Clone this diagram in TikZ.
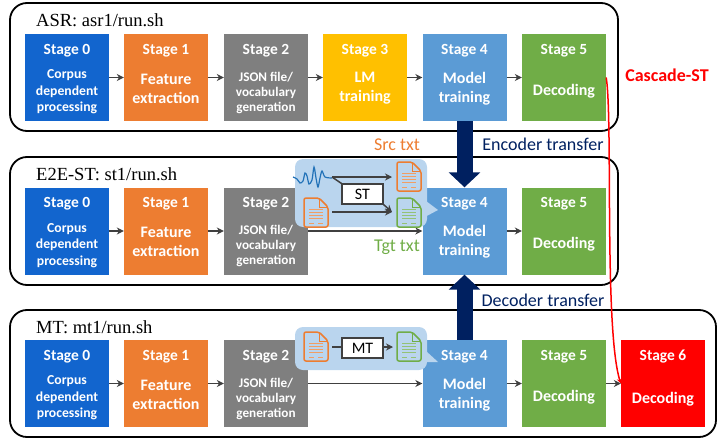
\documentclass[tikz,border=0pt]{standalone}
\usepackage{fontspec}
\setmainfont{Carlito}
\newfontfamily\titlefont{Liberation Serif}
\usetikzlibrary{arrows.meta}
\definecolor{stageblue}{HTML}{1265CE}
\definecolor{stageorange}{HTML}{ED7D31}
\definecolor{stagegray}{HTML}{7F7F7F}
\definecolor{stageyellow}{HTML}{FFC000}
\definecolor{stagesky}{HTML}{5B9BD5}
\definecolor{stagegreen}{HTML}{70AD47}
\definecolor{bubblecol}{HTML}{BAD5EE}
\definecolor{navycol}{HTML}{002060}
\definecolor{arrowcol}{HTML}{404040}
\definecolor{wavecol}{HTML}{2272B8}
\newcommand{\corpusfont}{\fontsize{13.7}{16.5}\selectfont\bfseries}
\newcommand{\jsonfont}{\fontsize{13.2}{15}\selectfont\bfseries}
\newcommand{\mainfontb}{\fontsize{16}{19}\selectfont\bfseries}
\tikzset{
  rowbox/.style={draw=black, line width=1.8pt, rounded corners=17pt},
  stagebox/.style={fill=#1, minimum width=84pt, minimum height=87pt, inner sep=0pt},
  stagehead/.style={text=white, font=\fontsize{15.5}{17}\selectfont\bfseries, inner sep=0pt},
  stagebody/.style={text=white, align=center, inner sep=0pt},
  runlabel/.style={font=\titlefont\fontsize{18.5}{20}\selectfont, anchor=west, inner sep=0pt},
  flow/.style={-{Stealth[length=7pt,width=7pt]}, draw=arrowcol, line width=1.5pt},
  transfer/.style={-{Triangle[width=31pt,length=15pt]}, draw=navycol, line width=16pt},
  procbox/.style={draw=arrowcol, fill=white, line width=1.1pt, minimum width=41pt, minimum height=20pt, inner sep=0pt, font=\fontsize{16}{18}\selectfont},
  sidetext/.style={font=\fontsize{18}{20}\selectfont},
  bubble/.style={fill=bubblecol, rounded corners=8pt}
}
% page with folded corner
\newcommand{\docicon}[3]{
\begin{scope}[shift={(#1,#2)}]
\draw[#3, line width=1.5pt, rounded corners=2pt] (0,0)--(15,0)--(24,9)--(24,29)--(0,29)--cycle;
\draw[#3, line width=0.8pt] (15,0)--(15,9)--(24,9);
\foreach \y in {11,14,17,20}
{
\draw[#3!75, line width=0.8pt] (5,\y)--(19,\y);
}
\draw[#3!75, line width=0.8pt] (5,25)--(10,25);
\draw[#3!75, line width=0.8pt] (14,25)--(19,25);
\end{scope}
}
\begin{document}
\begin{tikzpicture}[x=1pt,y=-1pt]
\useasboundingbox (0,0) rectangle (718,439);
\draw[rowbox] (10,3) rectangle (618,131);
\draw[rowbox] (10,157) rectangle (618,285);
\draw[rowbox] (10,310) rectangle (716,437);
\node[runlabel] (asrlabel) at (36,20) {ASR: asr1/run.sh};
\node[runlabel] (e2elabel) at (36,174) {E2E-ST: st1/run.sh};
\node[runlabel] (mtlabel) at (36,327) {MT: mt1/run.sh};
% stages of every row
\foreach \r/\yc in {a/77.5,b/231,c/383.5}
{
\foreach \s/\xc/\col/\bf/\body/\dy in {0/67/stageblue/\corpusfont/{Corpus\\dependent\\processing}/14.5,1/166/stageorange/\mainfontb/{Feature\\extraction}/11,2/266/stagegray/\jsonfont/{JSON file/\\vocabulary\\generation}/15,4/464.5/stagesky/\mainfontb/{Model\\training}/11,5/564/stagegreen/\mainfontb/{Decoding}/13.5}
{
\node[stagebox=\col] (\r\s) at (\xc,\yc) {};
\node[stagehead] at (\xc,\yc-27) {Stage \s};
\node[stagebody, font=\bf] at (\xc,\yc+\dy) {\body};
}
\draw[flow] (\r0)--(\r1);
\draw[flow] (\r1)--(\r2);
\draw[flow] (\r4)--(\r5);
}
\node[stagebox=stageyellow] (a3) at (365,77.5) {};
\node[stagehead] at (365,50.5) {Stage 3};
\node[stagebody, font=\mainfontb] at (365,88.5) {LM\\training};
\node[stagebox=red] (c6) at (663,383.5) {};
\node[stagehead] at (663,356.5) {Stage 6};
\node[stagebody, font=\mainfontb] at (663,399) {Decoding};
\draw[flow] (a2)--(a3);
\draw[flow] (a3)--(a4);
\draw[flow] (b2)--(b4);
\draw[flow] (c2)--(c4);
\draw[flow] (c5)--(c6);
% transfer arrows
\draw[transfer] (a4.south)--(b4.north);
\draw[transfer] (c4.north)--(b4.south);
\node[text=navycol, sidetext] (enc) at (543,144) {Encoder transfer};
\node[text=navycol, sidetext] (dec) at (543,300) {Decoder transfer};
\node[text=red, font=\fontsize{18}{20}\selectfont\bfseries] (casc) at (667,75) {Cascade-ST};
\node[text=stageorange, sidetext] (srctxt) at (397,145) {Src txt};
\node[text=stagegreen, sidetext] (tgttxt) at (397,247) {Tgt txt};
% speech translation bubble
\fill[bubble] (295,159) rectangle (427,227);
\fill[bubblecol] (426,201)--(438,210)--(423,218)--cycle;
\draw[wavecol, line width=1.2pt, smooth] plot coordinates {(293,177) (297,179) (300,183) (303,181) (305,173) (307,176) (309,184) (312,180) (314,167) (316,178) (318,187) (320,178) (322,171) (325,177) (332,178)};
\coordinate (wave) at (332,177);
\coordinate (srcin) at (392,177);
\coordinate (docout) at (332,212);
\coordinate (tgtin) at (392,212);
\node[procbox] (st) at (362.5,194) {ST};
\draw[flow] (wave)--(srcin);
\draw[draw=arrowcol, line width=1.5pt] (wave)--(st.north west);
\draw[flow] (docout)--(tgtin);
\draw[flow] (st.south east)--(tgtin);
\docicon{397}{162}{stageorange}
\docicon{304}{198}{stageorange}
\docicon{397}{198}{stagegreen}
% machine translation bubble
\fill[bubble] (295,327) rectangle (427,370);
\fill[bubblecol] (426,351)--(438,362)--(420,362)--cycle;
\coordinate (mtin) at (332,347);
\coordinate (mtout) at (393,347);
\node[procbox] (mt) at (362.5,348) {MT};
\draw[draw=arrowcol, line width=1.5pt] (mtin)--(mt.west |- mtin);
\draw[flow] (mt.east |- mtout)--(mtout);
\docicon{304}{332}{stageorange}
\docicon{397}{332}{stagegreen}
% cascade line
\draw[red, line width=1.5pt, -{Stealth[length=5pt,width=5pt]}] (a5.east) .. controls (613,120) and (604,330) .. (c6.west);
\end{tikzpicture}
\end{document}
